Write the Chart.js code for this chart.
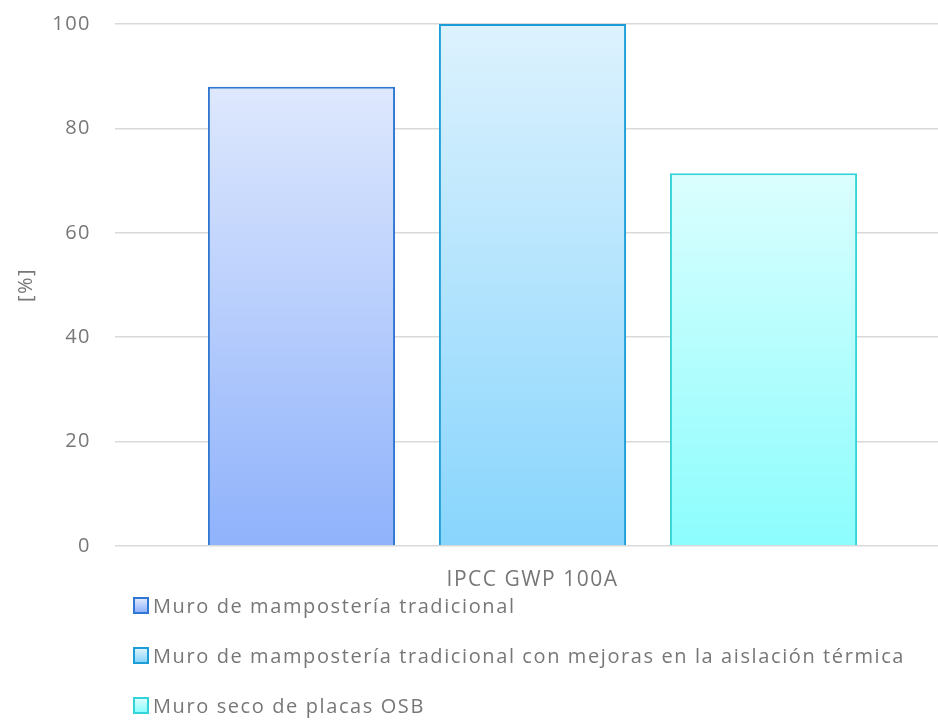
<!DOCTYPE html>
<html>
<head>
<meta charset="utf-8">
<script src="https://cdn.jsdelivr.net/npm/chart.js@4"></script>
<style>
  body { margin: 0; background: #fff; overflow: hidden; }
  .wrap { position: relative; width: 950px; height: 720px; overflow: hidden; }
  #myChart { position: absolute; left: 0; top: -12px; }
  .legend { position: absolute; left: 133px; top: 580px; margin: 0; padding: 0; list-style: none;
    font-family: 'Open Sans', sans-serif; font-size: 20px; color: #777; letter-spacing: 1.6px; }
  .legend li { height: 50px; display: flex; align-items: center; white-space: nowrap; }
  .legend .box { width: 12px; height: 13px; border: 2px solid; margin-right: 4px; box-sizing: content-box; }
</style>
</head>
<body>
<div class="wrap">
  <canvas id="myChart" width="950" height="612"></canvas>
  <ul class="legend" id="legend"></ul>
</div>
<script>
const categories = ['IPCC GWP 100A']
const seriesNames = [
    'Muro de mampostería tradicional',
    'Muro de mampostería tradicional con mejoras en la aislación térmica',
    'Muro seco de placas OSB'
]
const seriesValues = [[88], [100], [71.4]]
const yTicks = [0, 20, 40, 60, 80, 100]

// colores: arriba, abajo, borde
const colorsTop = ['#dee8fd', '#ddf2fe', '#dbfefe']
const colorsBottom = ['#8fb2fb', '#88d5fd', '#8cfdfd']
const colorsBorder = ['#2f77d2', '#1c9dd8', '#33d3da']

const textColor = '#777'
const font = "'Open Sans', sans-serif"

function barGradient(i) {
    return (context) => {
        const chart = context.chart
        const area = chart.chartArea
        if (!area) return colorsBottom[i]
        const yTop = chart.scales.y.getPixelForValue(context.raw)
        const g = chart.ctx.createLinearGradient(0, area.bottom, 0, yTop)
        g.addColorStop(0, colorsBottom[i])
        g.addColorStop(1, colorsTop[i])
        return g
    }
}

const datasets = seriesNames.map((name, i) => ({
    label: name,
    data: seriesValues[i],
    backgroundColor: barGradient(i),
    borderColor: colorsBorder[i],
    borderWidth: 2,
    borderSkipped: 'bottom',
    categoryPercentage: 0.83,
    barPercentage: 0.81
}))

// leyenda en html, una fila por serie
const htmlLegend = {
    id: 'htmlLegend',
    afterUpdate(chart) {
        const ul = document.getElementById('legend')
        ul.innerHTML = ''
        chart.data.datasets.forEach((ds, i) => {
            const li = document.createElement('li')
            const box = document.createElement('span')
            box.className = 'box'
            box.style.borderColor = colorsBorder[i]
            box.style.background = 'linear-gradient(' + colorsTop[i] + ',' + colorsBottom[i] + ')'
            const txt = document.createElement('span')
            txt.textContent = ds.label
            li.appendChild(box)
            li.appendChild(txt)
            ul.appendChild(li)
        })
    }
}

// texto un poco mas espaciado, como en el original
const spacing = {
    id: 'spacing',
    beforeLayout(chart) { chart.ctx.letterSpacing = '1.5px' },
    beforeDraw(chart) { chart.ctx.letterSpacing = '1.5px' }
}

const ctx = document.getElementById('myChart').getContext('2d')
const myChart = new Chart(ctx, {
    type: 'bar',
    data: {
        labels: categories,
        datasets: datasets
    },
    options: {
        responsive: false,
        animation: false,
        layout: { padding: { top: 10, right: 0, bottom: 0, left: 0 } },
        scales: {
            x: {
                grid: { display: false },
                border: { display: false },
                ticks: { color: textColor, font: { family: font, size: 21 }, padding: 13 },
                afterFit: (scale) => { scale.height = 54 }
            },
            y: {
                min: 0,
                max: 100,
                afterBuildTicks: (scale) => { scale.ticks = yTicks.map(v => ({ value: v })) },
                grid: { color: '#d9d9d9', lineWidth: 1.5, drawTicks: false },
                border: { display: false },
                ticks: { color: textColor, font: { family: font, size: 20 }, padding: 24 },
                title: {
                    display: true,
                    text: '[%]',
                    color: textColor,
                    font: { family: font, size: 20 },
                    padding: { top: 14, bottom: 0 }
                },
                afterFit: (scale) => { scale.width = 115 }
            }
        },
        plugins: {
            legend: { display: false },
            tooltip: { enabled: false }
        }
    },
    plugins: [htmlLegend, spacing]
})
</script>
</body>
</html>
